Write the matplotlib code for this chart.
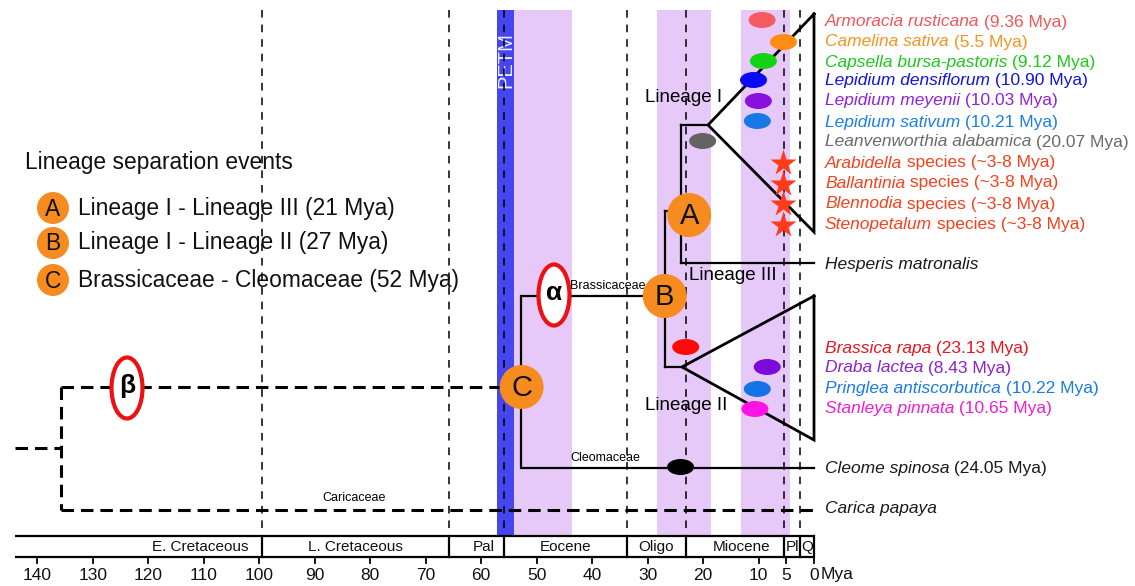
import matplotlib
matplotlib.use('Agg')
import matplotlib.pyplot as plt
from matplotlib.patches import Ellipse, Rectangle

plt.rcParams['font.family'] = ['Liberation Sans', 'DejaVu Sans']
plt.rcParams['lines.scale_dashes'] = False

# ---------------- data ----------------
period_names = ["E. Cretaceous", "L. Cretaceous", "Pal", "Eocene", "Oligo", "Miocene", "Pl", "Q"]
period_bounds = [144.0, 99.5, 65.8, 55.8, 33.7, 23.0, 5.4, 2.6, 0.0]
period_label_mya = [110.6, 82.6, 59.6, 44.7, 28.4, 13.1, 3.9, 1.3]
tick_values = [140, 130, 120, 110, 100, 90, 80, 70, 60, 50, 40, 30, 20, 10, 5, 0]
boundary_lines = [99.5, 65.8, 55.8, 33.7, 23.0, 5.4, 2.6]
petm_band = (57.2, 54.0)
wgd_bands = [(54.0, 43.7), (28.3, 18.6), (13.2, 4.3)]

species_names = ["Armoracia rusticana", "Camelina sativa", "Capsella bursa-pastoris",
                 "Lepidium densiflorum", "Lepidium meyenii", "Lepidium sativum",
                 "Leanvenworthia alabamica", "Arabidella", "Ballantinia", "Blennodia",
                 "Stenopetalum", "Hesperis matronalis", "Brassica rapa", "Draba lactea",
                 "Pringlea antiscorbutica", "Stanleya pinnata", "Cleome spinosa", "Carica papaya"]
species_suffix = [" (9.36 Mya)", " (5.5 Mya)", " (9.12 Mya)", " (10.90 Mya)", " (10.03 Mya)",
                  " (10.21 Mya)", " (20.07 Mya)", " species (~3-8 Mya)", " species (~3-8 Mya)",
                  " species (~3-8 Mya)", " species (~3-8 Mya)", "", " (23.13 Mya)", " (8.43 Mya)",
                  " (10.22 Mya)", " (10.65 Mya)", " (24.05 Mya)", ""]
species_text_colors = ["#F2555A", "#F7931E", "#1DC81D", "#1212E6", "#8F22DE", "#1A80E8",
                       "#6A6A6A", "#F4411E", "#F4411E", "#F4411E", "#F4411E", "#1A1A1A",
                       "#E8141E", "#8A22D0", "#1A7AE6", "#F01CD8", "#1A1A1A", "#1A1A1A"]
species_rows = [22, 42, 62, 81, 101, 122, 142, 163, 183, 204, 224, 264,
                348, 368, 389, 409, 468, 509]

# divergence-time markers (ellipses)
marker_rows = [20, 42, 61, 80, 101, 121, 141, 347, 367, 389, 409, 467]
marker_mya = [9.36, 5.5, 9.12, 10.90, 10.03, 10.21, 20.07, 23.13, 8.43, 10.22, 10.65, 24.05]
marker_colors = ["#F45A5E", "#FF8C14", "#14D214", "#0A0AF5", "#8A10E0", "#1878E6",
                 "#636363", "#FF0A0A", "#7D0ADC", "#1474E6", "#FF14E6", "#000000"]
# star markers (~3-8 Mya)
star_rows = [163, 184, 204, 225]
star_mya = 5.5

# tree node ages (Mya)
root_stub = 144.0
root_age = 135.7
c_age = 52.8
b_age = 26.9
a_age = 24.0
lin1_apex = 19.1
lin2_apex = 23.8
tip_age = 0.0

# lineage separation events
event_letters = ["A", "B", "C"]
event_texts = ["Lineage I - Lineage III (21 Mya)", "Lineage I - Lineage II (27 Mya)",
               "Brassicaceae - Cleomaceae (52 Mya)"]
event_circle_mya = [22.5, 26.9, 52.7]
event_circle_rows = [215, 296, 387]

# ---------------- figure ----------------
PX = 5.548  # pixels per Mya
X0 = 814.0  # pixel of 0 Mya
def mya(px):
    return (X0 - px) / PX
def w(px):
    return px / PX

fig = plt.figure(figsize=(11.35, 5.86), dpi=100)
ax = fig.add_axes([0, 0, 1, 1])
ax.set_xlim(mya(0), mya(1135))
ax.set_ylim(586, 0)
ax.axis('off')

ORANGE = "#F68B1F"
band_top, band_bot = 10, 536

# bands
ax.add_patch(Rectangle((petm_band[1], band_top), petm_band[0] - petm_band[1], band_bot - band_top,
                       color="#4646EE", lw=0, zorder=1))
for a, b in wgd_bands:
    ax.add_patch(Rectangle((b, band_top), a - b, band_bot - band_top,
                           color="#E6C8F9", lw=0, zorder=1))
ax.text(mya(506), 60, "PETM", rotation=90, color="#ECECFF", fontsize=14.5,
        ha='center', va='center', zorder=2)

# background dashed lines
for m in boundary_lines:
    ax.plot([m, m], [band_top, band_bot], color='black', lw=1.1,
            dashes=(5.5, 5.0), zorder=2)

# timeline box
TL_TOP, TL_BOT = 536, 557
ax.plot([period_bounds[0], 0], [TL_TOP, TL_TOP], color='black', lw=1.6, zorder=3,
        solid_capstyle='butt')
ax.plot([period_bounds[0], 0], [TL_BOT, TL_BOT], color='black', lw=1.6, zorder=3,
        solid_capstyle='butt')
for m in period_bounds[1:]:
    ax.plot([m, m], [TL_TOP, TL_BOT], color='black', lw=1.6, zorder=3)
for name, m in zip(period_names, period_label_mya):
    ax.text(m, 547, name, fontsize=11, ha='center', va='center', color='#111111')
for t in tick_values:
    ax.plot([t, t], [TL_BOT, TL_BOT + 6], color='black', lw=1.3, zorder=3)
    ax.text(t, 575, str(t), fontsize=12.5, ha='center', va='center', color='#111111')
ax.text(mya(821), 575, "Mya", fontsize=12.5, ha='left', va='center', color='#111111')

# tree
DASH = dict(color='black', lw=2.2, dashes=(9.0, 5.0), zorder=4)
SOL = dict(color='black', lw=1.6, zorder=4, solid_joinstyle='miter')
TRI = dict(color='black', lw=2.0, zorder=4, solid_joinstyle='miter')

ax.plot([root_stub, root_age], [448, 448], **DASH)
ax.plot([root_age, root_age], [387, 510], **DASH)
ax.plot([root_age, c_age], [387, 387], **DASH)
ax.plot([root_age, tip_age], [510, 510], **DASH)

ax.plot([tip_age, c_age, c_age, b_age], [468, 468, 296, 296], **SOL)
ax.plot([b_age, b_age], [211, 367], **SOL)
ax.plot([b_age, a_age], [211, 211], **SOL)
ax.plot([a_age, a_age], [125, 263], **SOL)
ax.plot([a_age, tip_age], [263, 263], **SOL)
ax.plot([a_age, lin1_apex], [125, 125], **SOL)
ax.plot([b_age, lin2_apex], [367, 367], **SOL)
ax.plot([tip_age, lin1_apex, tip_age, tip_age], [14, 125, 232, 14], **TRI)
ax.plot([tip_age, lin2_apex, tip_age, tip_age], [296, 367, 440, 296], **TRI)

ax.text(mya(608), 286, "Brassicaceae", fontsize=9, ha='center', va='center', zorder=5)
ax.text(mya(605), 458, "Cleomaceae", fontsize=9, ha='center', va='center', zorder=5)
ax.text(mya(354), 498, "Caricaceae", fontsize=9, ha='center', va='center', zorder=5)

ax.text(mya(645), 97, "Lineage I", fontsize=13.5, ha='left', va='center', zorder=5)
ax.text(mya(689), 275, "Lineage III", fontsize=13.5, ha='left', va='center', zorder=5)
ax.text(mya(645), 405, "Lineage II", fontsize=13.5, ha='left', va='center', zorder=5)

# WGD ellipses alpha / beta
for cx, cy, lab in [(mya(554), 295, "α"), (mya(127), 388, "β")]:
    ax.add_patch(Ellipse((cx, cy), w(31), 61, facecolor='white', edgecolor='#EE1111',
                         lw=3.0, zorder=6))
    ax.text(cx, cy - 2, lab, fontsize=19, fontweight='bold', ha='center', va='center', zorder=7)

# event circles on tree
for letter, m, y in zip(event_letters, event_circle_mya, event_circle_rows):
    ax.add_patch(Ellipse((m, y), w(44), 44, facecolor=ORANGE, edgecolor='none', zorder=6))
    ax.text(m, y + 1, letter, fontsize=21, ha='center', va='center', zorder=7, color='#111111')

# markers
for m, y, c in zip(marker_mya, marker_rows, marker_colors):
    ax.add_patch(Ellipse((m, y), w(27), 16, facecolor=c, edgecolor='none', zorder=6))
for y in star_rows:
    ax.plot([star_mya], [y], marker='*', ms=20, color='#FF3B1A', mec='none', zorder=6)

# species labels
LX = mya(825)
for name, suf, col, y in zip(species_names, species_suffix, species_text_colors, species_rows):
    t = ax.text(LX, y, name, style='italic', color=col, fontsize=12.5, ha='left', va='center',
                zorder=5)
    if suf:
        ax.annotate(suf, xy=(1, 0), xycoords=t, ha='left', va='bottom', color=col,
                    fontsize=12.5, zorder=5)

# legend of lineage separation events
ax.text(mya(25), 163, "Lineage separation events", fontsize=16.4, ha='left', va='center',
        color='#111111', zorder=5)
for letter, txt, y in zip(event_letters, event_texts, [208, 243, 280]):
    ax.add_patch(Ellipse((mya(53), y), w(32), 32, facecolor=ORANGE, edgecolor='none', zorder=6))
    ax.text(mya(53), y + 1, letter, fontsize=16.4, ha='center', va='center', zorder=7,
            color='#111111')
    ax.text(mya(78), y, txt, fontsize=16.4, ha='left', va='center', zorder=5, color='#111111')

fig.savefig('out.png', dpi=100, facecolor='white')
